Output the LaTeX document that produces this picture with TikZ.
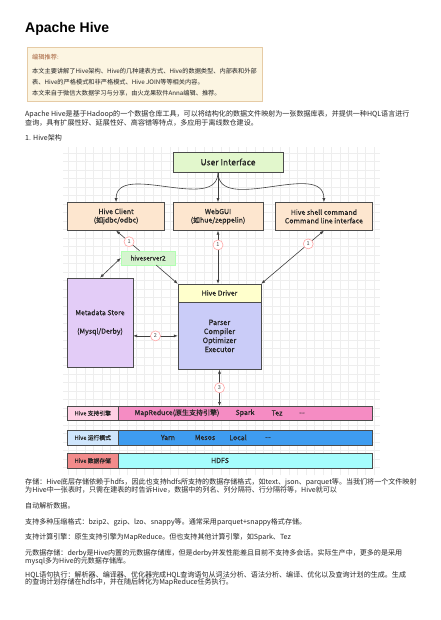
\documentclass[tikz,border=0pt]{standalone}
\usepackage{fontspec}
\setmainfont{Noto Sans CJK SC}
\newfontfamily\latin{Liberation Sans}
\newfontfamily\dgfont{Noto Sans CJK SC}[FakeBold=0.3]
\usetikzlibrary{arrows.meta,positioning,calc}

\definecolor{uigreen}{HTML}{E2F7CC}
\definecolor{peach}{HTML}{FDE6CF}
\definecolor{hsgreen}{HTML}{D5F5CF}
\definecolor{lavender}{HTML}{E3CCF7}
\definecolor{drvyellow}{HTML}{FFFFCC}
\definecolor{periwinkle}{HTML}{CACCF8}
\definecolor{pinklab}{HTML}{FFD0E4}
\definecolor{pinkbar}{HTML}{F58CC3}
\definecolor{bluelab}{HTML}{CFE6FD}
\definecolor{bluebar}{HTML}{3E9CF0}
\definecolor{redlab}{HTML}{F28B8B}
\definecolor{cyanbar}{HTML}{A5FCFC}
\definecolor{notebg}{HTML}{FCF5E2}
\definecolor{noteline}{HTML}{E6CBA5}
\definecolor{notehead}{HTML}{A5603A}
\definecolor{gridgray}{HTML}{EEEEEE}

\begin{document}
\begin{tikzpicture}[
    x=1pt, y=-1pt,
    >={Latex[length=4pt,width=3pt]},
    box/.style={draw=black!70, align=center, inner sep=1pt, text=black!85, font=\dgfont\fontsize{7}{8.5}\selectfont},
    numc/.style={circle, draw=red!35, fill=white, text=black!70, inner sep=0pt, minimum size=10pt, font=\fontsize{5.5}{6}\selectfont},
    barbox/.style={draw=black!70, minimum height=15pt, inner sep=0pt, anchor=north west},
    bartext/.style={inner sep=0pt, text=black!85, font=\dgfont\fontsize{7}{8}\selectfont},
    labtext/.style={text=black!85, font=\dgfont\fontsize{5.8}{6}\selectfont},
    link/.style={black!75, line width=0.6pt},
    para/.style={anchor=base west, inner sep=0pt, text=black!85, font=\fontsize{7.05}{7}\selectfont},
    notetext/.style={anchor=base west, inner sep=0pt, text=black!85, font=\fontsize{6.2}{7}\selectfont},
]
\useasboundingbox (0,0) rectangle (440,620);
\fill[white] (0,0) rectangle (440,620);

% title and note
\node[anchor=base west, inner sep=0pt, font=\latin\bfseries\fontsize{14}{14}\selectfont] (title) at (25,33) {Apache Hive};
\node[draw=noteline, fill=notebg, minimum width=235pt, minimum height=54pt, anchor=north west, inner sep=0pt] (notebox) at (27,47) {};
\node[notetext, text=notehead] (nhead) at (32,59.4) {编辑推荐:};
\node[notetext] (nl1) at (32,73.4) {本文主要讲解了Hive架构、Hive的几种建表方式、Hive的数据类型、内部表和外部};
\node[notetext] (nl2) at (32,84.1) {表、Hive的严格模式和非严格模式、Hive JOIN等等相关内容。};
\node[notetext] (nl3) at (32,95.7) {本文来自于微信大数据学习与分享，由火龙果软件Anna编辑、推荐。};

\node[para] (p1a) at (25,116.5) {Apache Hive是基于Hadoop的一个数据仓库工具，可以将结构化的数据文件映射为一张数据库表，并提供一种HQL语言进行};
\node[para] (p1b) at (25,125.7) {查询，具有扩展性好、延展性好、高容错等特点，多应用于离线数仓建设。};
\node[para] (h1) at (25,140.7) {1. Hive架构};

% diagram
\draw[gridgray, line width=0.4pt, step=8.5pt] (63,147) grid (380,475);

\node[box, fill=uigreen, minimum width=110pt, minimum height=20pt, font=\dgfont\fontsize{8.5}{9}\selectfont] (ui) at (228,162) {User Interface};
\node[box, fill=peach, minimum width=90pt, minimum height=28pt, below=30pt of ui, xshift=-10pt] (web) {WebGUI\\(如hue/zeppelin)};
\node[box, fill=peach, minimum width=97pt, minimum height=28pt, left=8pt of web] (client) {Hive Client\\(如jdbc/odbc)};
\node[box, fill=peach, minimum width=97pt, minimum height=28pt, right=12pt of web] (shell) {Hive shell command\\Command line interface};

\node[box, fill=hsgreen, draw=green!30, minimum width=54pt, minimum height=14pt, font=\dgfont\fontsize{6.5}{7}\selectfont] (hs2) at (148,258) {hiveserver2};
\node[box, fill=lavender, minimum width=66pt, minimum height=89pt] (meta) at (100,322.5) {Metadata Store\\[10pt](Mysql/Derby)};
\node[box, fill=drvyellow, minimum width=83pt, minimum height=18pt] (driver) at (219.5,293) {Hive Driver};
\node[box, fill=periwinkle, minimum width=83pt, minimum height=67pt, below=0pt of driver, font=\dgfont\fontsize{7.3}{9}\selectfont] (core) {Parser\\Compiler\\Optimizer\\Executor};

\draw[->, link] (ui.south -| web.north) to[out=-90, in=90] (client.north);
\draw[->, link] (ui.south -| web.north) -- (web.north);
\draw[->, link] (ui.south -| web.north) to[out=-90, in=90] (shell.north);

\draw[->, link] (hs2) -- node[numc, pos=0.45] {1} (client.south);
\draw[<->, link] (meta.north) -- (hs2.west);
\draw[->, link] (hs2) -- (driver.north west);
\draw[<->, link] (web.south) -- node[numc, pos=0.27] {1} (web.south |- driver.north);
\draw[<->, link] (shell.south) -- node[numc, pos=0.25] {1} (driver.north east);
\draw[<->, link] (core.west -| meta.east) -- node[numc] {2} (core.west);

% layers
\node[barbox, fill=pinkbar, minimum width=305pt, minimum height=14pt] (engine) at (67,406) {};
\node[barbox, fill=pinklab, minimum width=51pt, minimum height=14pt, labtext] (englab) at (67,406) {Hive 支持引擎};
\node[bartext] (mr) at (177,413) {MapReduce(原生支持引擎)};
\node[bartext] (spark) at (245,413) {Spark};
\node[bartext] (tez) at (277,413) {Tez};
\node[bartext] (engdots) at (302,413) {...};
\draw[<->, link] (core.south) -- node[numc] {3} (core.south |- engine.north);

\node[barbox, fill=bluebar, minimum width=305pt] (mode) at (67,430) {};
\node[barbox, fill=bluelab, minimum width=51pt, labtext] (modelab) at (67,430) {Hive 运行模式};
\node[bartext] (yarn) at (168,437.5) {Yarn};
\node[bartext] (mesos) at (205,437.5) {Mesos};
\node[bartext] (local) at (238,437.5) {Local};
\node[bartext] (modedots) at (268,437.5) {...};

\node[barbox, fill=cyanbar, minimum width=305pt] (store) at (67,453) {};
\node[barbox, fill=redlab, minimum width=51pt, labtext] (storelab) at (67,453) {Hive 数据存储};
\node[bartext] (hdfs) at (220,460.5) {HDFS};

% text below
\node[para] (s1) at (25,484.4) {存储：Hive底层存储依赖于hdfs，因此也支持hdfs所支持的数据存储格式，如text、json、parquet等。当我们将一个文件映射};
\node[para] (s2) at (25,492.5) {为Hive中一张表时，只需在建表的时告诉Hive，数据中的列名、列分隔符、行分隔符等，Hive就可以};
\node[para] (s3) at (25,508.4) {自动解析数据。};
\node[para] (c1) at (25,524.4) {支持多种压缩格式：bzip2、gzip、lzo、snappy等。通常采用parquet+snappy格式存储。};
\node[para] (e1) at (25,539.4) {支持计算引擎：原生支持引擎为MapReduce。但也支持其他计算引擎，如Spark、Tez};
\node[para] (m1) at (25,555.7) {元数据存储：derby是Hive内置的元数据存储库，但是derby并发性能差且目前不支持多会话。实际生产中，更多的是采用};
\node[para] (m2) at (25,563) {mysql多为Hive的元数据存储库。};
\node[para] (q1) at (25,577.3) {HQL语句执行：解析器、编译器、优化器完成HQL查询语句从词法分析、语法分析、编译、优化以及查询计划的生成。生成};
\node[para] (q2) at (25,584.6) {的查询计划存储在hdfs中，并在随后转化为MapReduce任务执行。};
\end{tikzpicture}
\end{document}
